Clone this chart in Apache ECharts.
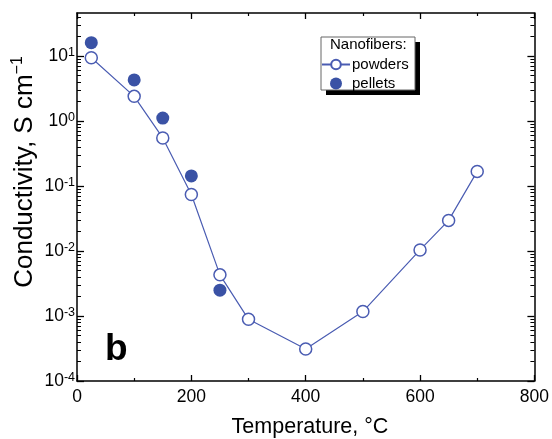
<!DOCTYPE html>
<html>
<head>
<meta charset="utf-8">
<script src="https://cdn.jsdelivr.net/npm/echarts@6/dist/echarts.min.js"></script>
<style>html,body{margin:0;padding:0;background:#fff;}#c{width:552px;height:439px;}</style>
</head>
<body>
<div id="c"></div>
<script>
// ---- data ----
const powderTemps = [25, 100, 150, 200, 250, 300, 400, 500, 600, 650, 700];
const powderCond  = [9.4, 2.4, 0.55, 0.074, 0.0043, 0.00089, 0.00031, 0.00117, 0.0104, 0.0296, 0.168];
const pelletTemps = [25, 100, 150, 200, 250];
const pelletCond  = [16.1, 4.3, 1.11, 0.143, 0.0025];
const xTicks = [0, 200, 400, 600, 800];
const yMajorTicks = [1e-4, 1e-3, 1e-2, 1e-1, 1, 10];
const yMinorTicks = [];
for (let e = -4; e <= 1; e++) for (let m = 2; m <= 9; m++) { const v = m * Math.pow(10, e); if (v <= 46) yMinorTicks.push(v); }

const FONT = 'Liberation Sans, Arial, sans-serif';
const C_POW = '#4a5cb2';
const C_PEL = '#3a52a5';
const yMin = 1e-4, yMax = 46;

function sup(v) {
  const e = Math.round(Math.log10(v));
  return '{b|10}{s|' + e + '}';
}
function yAxisBase(pos) {
  return { type: 'log', logBase: 10, min: yMin, max: yMax, position: pos,
    splitLine: { show: false }, axisLine: { show: false }, axisTick: { show: false }, axisLabel: { show: false } };
}
const yAxes = [
  Object.assign(yAxisBase('left'), {
    axisLine: { show: true, lineStyle: { color: '#000', width: 1.5 } },
    axisTick: { show: true, inside: true, length: 7, customValues: yMajorTicks, lineStyle: { color: '#000', width: 1.3 } },
    axisLabel: { show: true, customValues: yMajorTicks, margin: 2, formatter: sup, fontFamily: FONT,
      rich: { b: { fontSize: 17.5, lineHeight: 20, color: '#000', fontFamily: FONT },
              s: { fontSize: 12.5, lineHeight: 11, verticalAlign: 'top', color: '#000', fontFamily: FONT } } }
  }),
  Object.assign(yAxisBase('left'), {
    axisTick: { show: true, inside: true, length: 4, customValues: yMinorTicks, lineStyle: { color: '#000', width: 1 } }
  }),
  Object.assign(yAxisBase('right'), {
    axisLine: { show: true, lineStyle: { color: '#000', width: 1.5 } },
    axisTick: { show: true, inside: true, length: 7, customValues: yMajorTicks, lineStyle: { color: '#000', width: 1.3 } }
  }),
  Object.assign(yAxisBase('right'), {
    axisTick: { show: true, inside: true, length: 4, customValues: yMinorTicks, lineStyle: { color: '#000', width: 1 } }
  })
];
function xAxisBase(pos, labels) {
  return { type: 'value', min: 0, max: 800, interval: 200, position: pos,
    splitLine: { show: false },
    axisLine: { show: true, lineStyle: { color: '#000', width: 1.5 } },
    axisTick: { show: true, inside: true, length: 6, lineStyle: { color: '#000', width: 1.3 } },
    minorTick: { show: true, splitNumber: 2, length: 3, lineStyle: { color: '#000', width: 1.2 } },
    axisLabel: { show: labels, fontSize: 17.5, color: '#000', margin: 7, fontFamily: FONT,
      customValues: xTicks }
  };
}

const chart = echarts.init(document.getElementById('c'), null, { renderer: 'canvas' });
chart.setOption({
  animation: false,
  backgroundColor: '#fff',
  grid: { left: 77, right: 13, top: 13, bottom: 58, containLabel: false },
  xAxis: [xAxisBase('bottom', true), xAxisBase('top', false)],
  yAxis: yAxes,
  legend: {
    left: 321, top: 37, orient: 'vertical', z: 10,
    padding: [20, 5, 3, 0], itemGap: 4, itemWidth: 28, itemHeight: 12,
    backgroundColor: 'transparent', borderWidth: 0,
    textStyle: { fontSize: 15, color: '#000', fontFamily: FONT, padding: [0, 0, 0, -3] },
    data: ['powders', 'pellets']
  },
  graphic: [
    { type: 'rect', z: 5, shape: { x: 326, y: 42, width: 94, height: 53 }, style: { fill: '#000' } },
    { type: 'rect', z: 6, shape: { x: 321, y: 37, width: 94, height: 53 }, style: { fill: '#fff', stroke: '#666', lineWidth: 1 } },
    { type: 'text', z: 100, left: 330, top: 37, style: { text: 'Nanofibers:', fontSize: 15, fill: '#000', fontFamily: FONT } },
    { type: 'text', z: 100, left: 105, top: 331, style: { text: 'b', fontSize: 37, fontWeight: 'bold', fill: '#000', fontFamily: FONT } },
    { type: 'text', z: 100, x: 310, y: 427, style: { text: 'Temperature, °C', fontSize: 21.5, fill: '#000', fontFamily: FONT, textAlign: 'center', textVerticalAlign: 'middle' } },
    { type: 'text', z: 100, x: 25, y: 172, rotation: Math.PI / 2,
      style: { text: '{a|Conductivity, S cm}{s|\u22121}', textAlign: 'center', textVerticalAlign: 'middle',
        rich: { a: { fontSize: 26, lineHeight: 30, fill: '#000', fontFamily: FONT },
                s: { fontSize: 16, lineHeight: 16, verticalAlign: 'top', fill: '#000', fontFamily: FONT } } } }
  ],
  series: [
    { name: 'powders', type: 'line', xAxisIndex: 0, yAxisIndex: 0,
      data: powderTemps.map((t, i) => [t, powderCond[i]]),
      symbol: 'circle', symbolSize: 12,
      itemStyle: { color: '#fff', borderColor: C_POW, borderWidth: 1.5 },
      lineStyle: { color: C_POW, width: 1.2 }, z: 3 },
    { name: 'pellets', type: 'scatter', xAxisIndex: 0, yAxisIndex: 0,
      data: pelletTemps.map((t, i) => [t, pelletCond[i]]),
      symbol: 'circle', symbolSize: 13,
      itemStyle: { color: C_PEL, opacity: 1 }, z: 2 }
  ]
});
</script>
</body>
</html>
